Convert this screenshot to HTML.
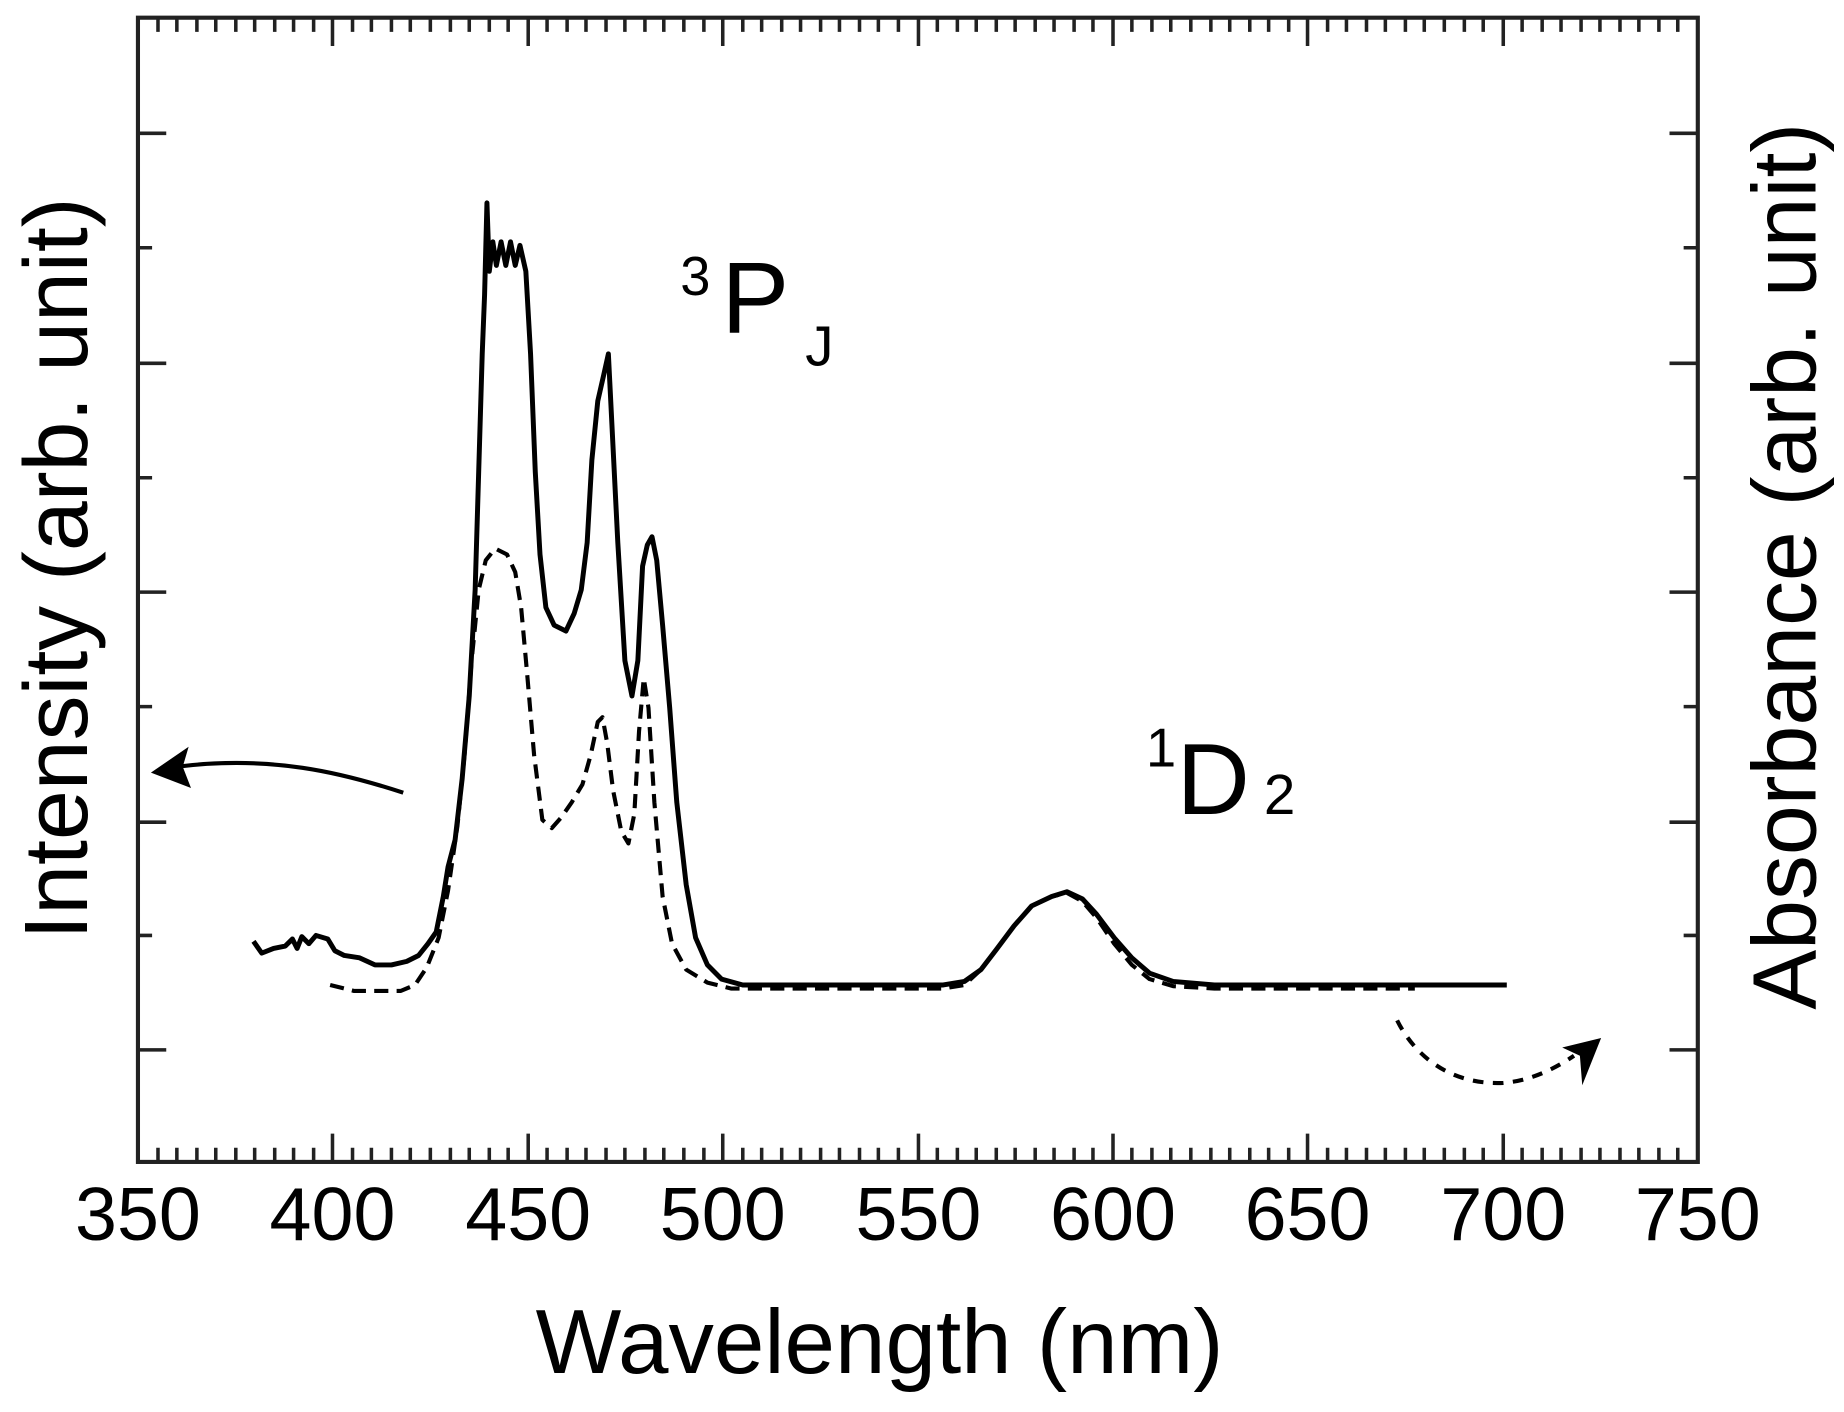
<!DOCTYPE html>
<html><head><meta charset="utf-8"><style>
html,body{margin:0;padding:0;background:#fff;}
svg{display:block;}
text{font-family:"Liberation Sans",sans-serif;fill:#000;}
</style></head><body>
<svg width="1844" height="1412" viewBox="0 0 1564 1197" preserveAspectRatio="none" xmlns="http://www.w3.org/2000/svg">
<rect x="117" y="15" width="1323" height="970" fill="none" stroke="#222" stroke-width="3.5"/>
<g stroke="#222" stroke-width="3">
<path d="M117 985v-24M134 985v-12M150 985v-12M167 985v-12M183 985v-12M282 985v-24M200 985v-12M216 985v-12M233 985v-12M249 985v-12M266 985v-12
M299 985v-12M315 985v-12M332 985v-12M348 985v-12M365 985v-12M382 985v-12M398 985v-12M415 985v-12M431 985v-12M448 985v-24M464 985v-12M481 985v-12M497 985v-12M514 985v-12M530 985v-12
M547 985v-12M563 985v-12M580 985v-12M597 985v-12M613 985v-24M630 985v-12M646 985v-12M663 985v-12M679 985v-12M696 985v-12M712 985v-12M729 985v-12M745 985v-12M762 985v-12M779 985v-24
M795 985v-12M812 985v-12M828 985v-12M845 985v-12M861 985v-12M878 985v-12M894 985v-12M911 985v-12M927 985v-12M944 985v-24M960 985v-12M977 985v-12M993 985v-12M1010 985v-12M1027 985v-12
M1043 985v-12M1060 985v-12M1076 985v-12M1093 985v-12M1109 985v-24M1126 985v-12M1142 985v-12M1159 985v-12M1175 985v-12M1192 985v-12M1208 985v-12M1225 985v-12M1242 985v-12M1258 985v-12M1275 985v-24
M1291 985v-12M1308 985v-12M1324 985v-12M1341 985v-12M1357 985v-12M1374 985v-12M1390 985v-12M1407 985v-12M1423 985v-12"/>
<path d="M134 15v12M150 15v12M167 15v12M183 15v12M200 15v12M216 15v12M233 15v12M249 15v12M266 15v12M282 15v24M299 15v12M315 15v12M332 15v12M348 15v12M365 15v12M382 15v12M398 15v12M415 15v12M431 15v12M448 15v24M464 15v12M481 15v12M497 15v12M514 15v12M530 15v12
M547 15v12M563 15v12M580 15v12M597 15v12M613 15v24M630 15v12M646 15v12M663 15v12M679 15v12M696 15v12M712 15v12M729 15v12M745 15v12M762 15v12M779 15v24
M795 15v12M812 15v12M828 15v12M845 15v12M861 15v12M878 15v12M894 15v12M911 15v12M927 15v12M944 15v24M960 15v12M977 15v12M993 15v12M1010 15v12M1027 15v12
M1043 15v12M1060 15v12M1076 15v12M1093 15v12M1109 15v24M1126 15v12M1142 15v12M1159 15v12M1175 15v12M1192 15v12M1208 15v12M1225 15v12M1242 15v12M1258 15v12M1275 15v24
M1291 15v12M1308 15v12M1324 15v12M1341 15v12M1357 15v12M1374 15v12M1390 15v12M1407 15v12M1423 15v12"/>
<path d="M117 113h24M117 210h12M117 308h24M117 405h12M117 502h24M117 599h12M117 697h24M117 793h12M117 890h24
M1440 113h-24M1440 210h-12M1440 308h-24M1440 405h-12M1440 502h-24M1440 599h-12M1440 697h-24M1440 793h-12M1440 890h-24"/>
</g>
<polyline fill="none" stroke="#000" stroke-width="4.2" stroke-linejoin="round" points="215,798 222,808 232,804 242,802 248,796 252,804 256,794 262,800 268,793 278,796 284,806 292,810 305,812 318,818 332,818 345,815 355,810 363,800 370,790 376,760 380,735 386,712 392,660 398,590 403,500 406,400 409,300 411,250 413,172 415,230 418,205 421,225 425,205 429,225 433,205 437,225 441,208 446,230 450,300 454,400 458,470 463,515 470,530 480,535 487,520 493,500 498,460 502,390 507,340 512,318 516,300 519,360 524,460 530,560 536,590 541,560 545,480 549,462 553,455 557,475 562,530 568,600 574,680 582,750 590,795 600,818 612,830 630,835 700,835 800,835 818,832 832,822 845,805 860,785 875,768 892,760 905,756 918,762 930,775 945,795 960,812 975,825 995,832 1030,835 1278,835"/>
<polyline fill="none" stroke="#000" stroke-width="3.5" stroke-dasharray="12,7" stroke-linejoin="round" points="280,835 300,840 340,840 352,835 362,820 372,795 380,755 388,700 394,640 400,560 406,500 412,475 420,465 430,470 437,485 442,515 447,570 453,640 460,695 468,702 476,693 485,680 494,665 501,640 507,612 511,608 515,630 520,670 527,705 533,715 538,690 542,620 546,575 550,600 555,680 562,760 570,800 582,822 600,833 620,838 700,838 800,838 818,835 832,822 845,805 860,785 875,768 892,760 905,757 918,764 930,778 945,800 960,818 975,830 995,836 1030,838 1200,838"/>
<path d="M342 672 C 290 655, 230 640, 150 650" fill="none" stroke="#000" stroke-width="3.5"/>
<polygon points="128,655 160,633 155,650 162,668" fill="#000"/>
<path d="M1185 865 C 1200 895, 1230 920, 1275 918 C 1300 916, 1320 905, 1335 895" fill="none" stroke="#000" stroke-width="3.5" stroke-dasharray="9,8"/>
<polygon points="1358,880 1325,888 1340,895 1342,920" fill="#000"/>
<text x="577" y="250" font-size="46">3</text>
<text x="612" y="282" font-size="86">P</text>
<text x="683" y="310" font-size="48">J</text>
<text x="972" y="650" font-size="46">1</text>
<text x="998" y="690" font-size="86">D</text>
<text x="1072" y="690" font-size="48">2</text>
<g font-size="64" text-anchor="middle">
<text x="117" y="1051">350</text><text x="282" y="1051">400</text><text x="448" y="1051">450</text><text x="613" y="1051">500</text><text x="779" y="1051">550</text><text x="944" y="1051">600</text><text x="1109" y="1051">650</text><text x="1275" y="1051">700</text><text x="1440" y="1051">750</text>
</g>
<text x="746" y="1164" font-size="77" text-anchor="middle">Wavelength (nm)</text>
<text transform="translate(74,482) rotate(-90)" font-size="76" text-anchor="middle">Intensity (arb. unit)</text>
<text transform="translate(1540,480) rotate(-90)" font-size="76" text-anchor="middle">Absorbance (arb. unit)</text>
</svg>
</body></html>
